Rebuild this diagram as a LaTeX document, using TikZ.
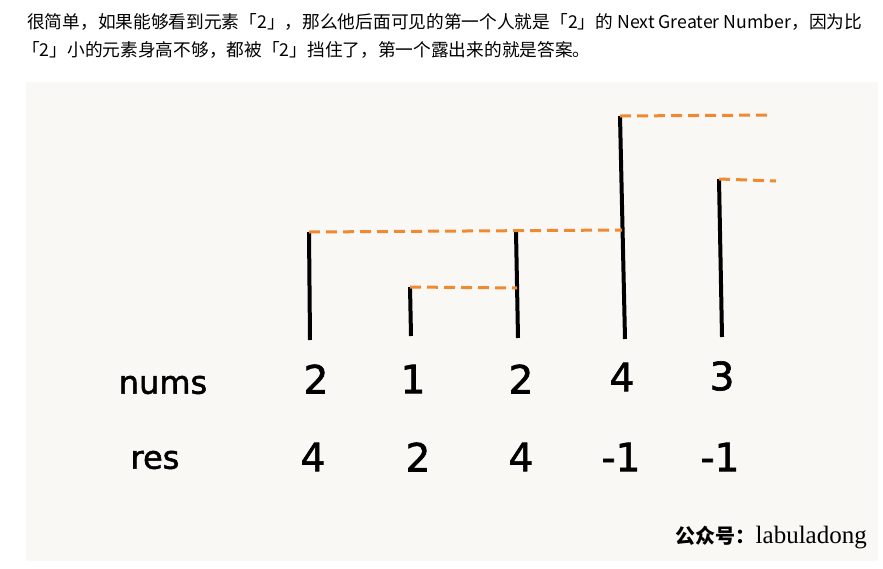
\documentclass[tikz,border=0pt]{standalone}
\usepackage{fontspec}
\setmainfont{DejaVu Sans}
\newfontfamily\numfont[FakeBold=1.6]{DejaVu Sans}
\newfontfamily\cjk{Noto Sans CJK SC}
\newfontfamily\serifw{Liberation Serif}
\definecolor{bg}{HTML}{FAF8F5}
\definecolor{org}{HTML}{F08A32}
\begin{document}
\begin{tikzpicture}[x=1pt,y=-1pt,
  bar/.style={line width=4pt},
  dsh/.style={draw=org, line width=3pt, dash pattern=on 11pt off 6pt},
  num/.style={font=\numfont\fontsize{39}{39}\selectfont, inner sep=0pt},
  lab/.style={font=\numfont\fontsize{32}{32}\selectfont, inner sep=0pt},
  para/.style={font=\cjk\fontsize{17.7}{20}\selectfont, inner sep=0pt, anchor=west}]
\useasboundingbox (0,0) rectangle (883,568);
\fill[white] (0,0) rectangle (883,568);
\fill[bg] (26,82) rectangle (878,561);
% paragraph
\node[para] (l1) at (27,22) {很简单，如果能够看到元素「2」，那么他后面可见的第一个人就是「2」的 Next Greater Number，因为比};
\node[para] (l2) at (22,50) {「2」小的元素身高不够，都被「2」挡住了，第一个露出来的就是答案。};
% bars
\coordinate (t1) at (309,232); \coordinate (b1) at (310,340);
\coordinate (t2) at (410,287); \coordinate (b2) at (411,336);
\coordinate (t3) at (516,231); \coordinate (b3) at (518,338);
\coordinate (t4) at (620,116); \coordinate (b4) at (625,339);
\coordinate (t5) at (719,179); \coordinate (b5) at (722,337);
\coordinate (m4) at (622,230); \coordinate (m3) at (517,288);
\coordinate (e4) at (770,115); \coordinate (e5) at (776,181);
\foreach \i in {1,...,5} \draw[bar] (t\i) -- (b\i);
\draw[dsh] (t1) -- (m4);
\draw[dsh] (t2) -- (m3);
\draw[dsh] (t4) -- (e4);
\draw[dsh] (t5) -- (e5);
% labels
\node[lab] (nums) at (163,385) {nums};
\node[lab] (res) at (155,460) {res};
\node[num] (n1) at (316,379) {2};
\node[num] (n2) at (413,379) {1};
\node[num] (n3) at (521,379) {2};
\node[num] (n4) at (622,377) {4};
\node[num] (n5) at (722,376) {3};
\node[num] (r1) at (313,457) {4};
\node[num] (r2) at (418,457) {2};
\node[num] (r3) at (521,457) {4};
\node[num] (r4) at (621,457) {-1};
\node[num] (r5) at (720,457) {-1};
% watermark
\node[inner sep=0pt, anchor=base east] (wm) at (867,543) {{\cjk\bfseries\fontsize{20}{20}\selectfont 公众号：}{\serifw\fontsize{25}{25}\selectfont labuladong}};
\end{tikzpicture}
\end{document}
